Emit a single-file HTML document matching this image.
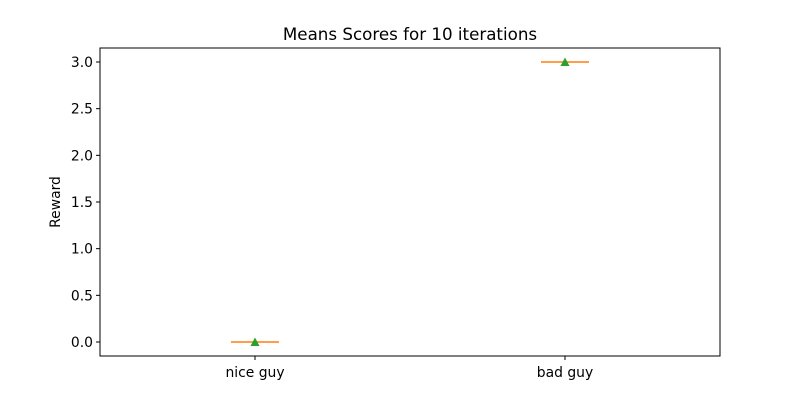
<!DOCTYPE html>
<html><head><meta charset="utf-8"><style>
body{margin:0;background:#fff;font-family:"Liberation Sans",sans-serif}
text{font-family:"DejaVu Sans","Liberation Sans",sans-serif;font-size:13.9px;fill:#000}
</style></head><body>
<svg id="chart" width="800" height="400">
<text x="410" y="40" text-anchor="middle" style="font-size:16.7px">Means Scores for 10 iterations</text>
<g id="marks"></g>
<rect x="100" y="48" width="620" height="308" fill="none" stroke="#000" stroke-width="1"/>
<text transform="translate(60,202) rotate(-90)" text-anchor="middle">Reward</text>
</svg>
<script>
const categories=["nice guy","bad guy"];
const means=[0,3];
const medians=[0,3];
const yTicks=[0,0.5,1,1.5,2,2.5,3];
const yTickLabels=["0.0","0.5","1.0","1.5","2.0","2.5","3.0"];
const y=v=>342-(v)*93.333;
const x=i=>255+i*310;
const g=document.getElementById('marks');
const ns='http://www.w3.org/2000/svg';
function mk(t,a){const e=document.createElementNS(ns,t);for(const k in a)e.setAttribute(k,a[k]);g.appendChild(e);return e;}
yTicks.forEach((v,i)=>{
 const t=mk('line',{x1:96,x2:100,y1:y(v),y2:y(v),stroke:'#000'});
 
 
 const l=mk('text',{x:93,y:y(v)+5,'text-anchor':'end'});l.textContent=yTickLabels[i];
 
 
});
categories.forEach((c,i)=>{
 const t=mk('line',{x1:x(i),x2:x(i),y1:356,y2:360,stroke:'#000'});
 
 
 const l=mk('text',{x:x(i),y:377,'text-anchor':'middle'});l.textContent=c;
 
 
 const cap=mk('line',{x1:x(i)-24,x2:x(i)+24,y1:y(medians[i]),y2:y(medians[i]),stroke:'#000'});
 
 
 const m=mk('line',{x1:x(i)-24,x2:x(i)+24,y1:y(medians[i]),y2:y(medians[i]),stroke:'#ff7f0e','stroke-width':1.5});
 
 
 const yy=y(means[i]);
 const p=mk('polygon',{points:`${x(i)},${yy-4.5} ${x(i)-4.5},${yy+4} ${x(i)+4.5},${yy+4}`,fill:'#2ca02c'});
 
 
});
</script>
</body></html>
